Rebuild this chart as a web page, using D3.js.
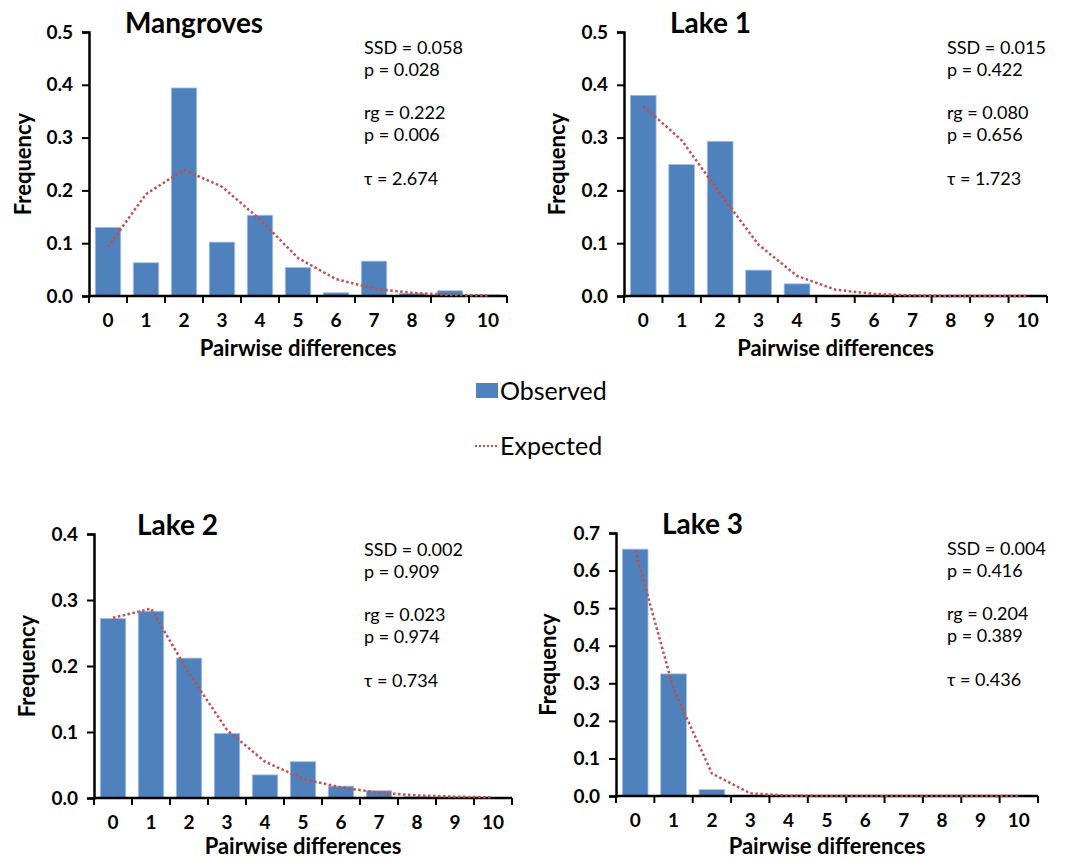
<!DOCTYPE html>
<html>
<head>
<meta charset="utf-8">
<script src="https://cdn.jsdelivr.net/npm/d3@7"></script>
<style>
  body { margin: 0; background: #fff; }
  svg text { font-family: Lato, "Noto Sans", sans-serif; fill: #000; }
  .tick text { font-weight: bold; font-size: 19px; }
</style>
</head>
<body>
<div id="chart"></div>
<script>
// categories (pairwise differences)
var diffs = [0, 1, 2, 3, 4, 5, 6, 7, 8, 9, 10];

// observed frequencies
var mangrovesObs = [0.130, 0.063, 0.394, 0.102, 0.153, 0.054, 0.006, 0.066, 0.005, 0.010, 0.002];
var lake1Obs = [0.380, 0.249, 0.293, 0.049, 0.023, 0, 0, 0, 0, 0, 0];
var lake2Obs = [0.272, 0.283, 0.212, 0.098, 0.035, 0.055, 0.018, 0.011, 0.002, 0.001, 0];
var lake3Obs = [0.657, 0.325, 0.017, 0, 0, 0, 0, 0, 0, 0, 0];

// expected frequencies
var mangrovesExp = [0.093, 0.193, 0.239, 0.207, 0.145, 0.072, 0.032, 0.014, 0.006, 0.002, 0.001];
var lake1Exp = [0.360, 0.295, 0.194, 0.097, 0.038, 0.012, 0.004, 0.001, 0, 0, 0];
var lake2Exp = [0.273, 0.287, 0.189, 0.103, 0.055, 0.029, 0.016, 0.008, 0.004, 0.002, 0.001];
var lake3Exp = [0.654, 0.285, 0.060, 0.007, 0.001, 0, 0, 0, 0, 0, 0];

// stats text
var mangrovesStats = ["SSD = 0.058", "p = 0.028", "rg = 0.222", "p = 0.006", "τ = 2.674"];
var lake1Stats = ["SSD = 0.015", "p = 0.422", "rg = 0.080", "p = 0.656", "τ = 1.723"];
var lake2Stats = ["SSD = 0.002", "p = 0.909", "rg = 0.023", "p = 0.974", "τ = 0.734"];
var lake3Stats = ["SSD = 0.004", "p = 0.416", "rg = 0.204", "p = 0.389", "τ = 0.436"];

var barColor = "#4F81BD";
var lineColor = "#C0504D";

var svg = d3.select("#chart").append("svg")
    .attr("width", 1065)
    .attr("height", 861);

//panel layout
var panels = [
    {title: "Mangroves", obs: mangrovesObs, exp: mangrovesExp, stats: mangrovesStats, yMax: 0.5,
     left: 89, right: 507, top: 32, bottom: 296, titleX: 125, statX: 364, yLabX: 23, xLabDy: 52},
    {title: "Lake 1", obs: lake1Obs, exp: lake1Exp, stats: lake1Stats, yMax: 0.5,
     left: 624, right: 1047, top: 32, bottom: 296, titleX: 670, statX: 947, yLabX: 557, xLabDy: 52},
    {title: "Lake 2", obs: lake2Obs, exp: lake2Exp, stats: lake2Stats, yMax: 0.4,
     left: 94, right: 512, top: 534, bottom: 798, titleX: 137, statX: 364, yLabX: 27, xLabDy: 48},
    {title: "Lake 3", obs: lake3Obs, exp: lake3Exp, stats: lake3Stats, yMax: 0.7,
     left: 616, right: 1038, top: 533, bottom: 796, titleX: 662, statX: 947, yLabX: 548, xLabDy: 50}
];

var statOffsets = [16, 38, 81, 103, 147];

panels.forEach(function(p) {
    var g = svg.append("g");

    var x = d3.scaleBand()
        .domain(diffs)
        .range([p.left, p.right])
        .paddingInner(0.33)
        .paddingOuter(0.165);
    var y = d3.scaleLinear()
        .domain([0, p.yMax])
        .range([p.bottom, p.top]);

    //bars
    g.selectAll("rect")
        .data(p.obs)
        .enter()
        .append("rect")
        .attr("x", (d, i) => x(diffs[i]))
        .attr("y", d => y(d))
        .attr("width", x.bandwidth())
        .attr("height", d => p.bottom - y(d))
        .attr("fill", barColor)
        .attr("stroke", "#a9c0e0")
        .attr("stroke-width", 0.8);

    //y axis
    var yAxis = d3.axisLeft(y)
        .tickValues(d3.range(0, p.yMax + 0.001, 0.1))
        .tickFormat(d3.format(".1f"))
        .tickSize(7)
        .tickPadding(9);
    var ya = g.append("g")
        .attr("transform", `translate(${p.left}, 0)`)
        .call(yAxis);
    ya.select(".domain").attr("stroke-width", 2.5);
    ya.selectAll(".tick line").attr("stroke-width", 2);

    //x axis labels
    var xAxis = d3.axisBottom(x).tickSize(0).tickPadding(18);
    var xa = g.append("g")
        .attr("transform", `translate(0, ${p.bottom})`)
        .call(xAxis);
    xa.select(".domain").remove();

    //x axis line and boundary ticks
    g.append("line")
        .attr("x1", p.left).attr("x2", p.right)
        .attr("y1", p.bottom).attr("y2", p.bottom)
        .attr("stroke", "#000").attr("stroke-width", 2.5);
    g.selectAll(".bt")
        .data(d3.range(diffs.length + 1))
        .enter()
        .append("line")
        .attr("x1", i => p.left + i * x.step())
        .attr("x2", i => p.left + i * x.step())
        .attr("y1", p.bottom).attr("y2", p.bottom + 7)
        .attr("stroke", "#000").attr("stroke-width", 2);

    //expected line
    var line = d3.line()
        .x((d, i) => x(diffs[i]) + x.bandwidth() / 2)
        .y(d => y(d));
    g.append("path")
        .datum(p.exp)
        .attr("d", line)
        .attr("fill", "none")
        .attr("stroke", lineColor)
        .attr("stroke-width", 2.5)
        .attr("stroke-dasharray", "2.5,2.5");

    //title
    g.append("text")
        .attr("x", p.titleX)
        .attr("y", p.top + 1)
        .attr("font-size", 28)
        .attr("font-weight", "bold")
        .text(p.title);

    //stats
    g.selectAll(".stat")
        .data(p.stats)
        .enter()
        .append("text")
        .attr("x", p.statX)
        .attr("y", (d, i) => p.top + statOffsets[i])
        .attr("dy", "0.35em")
        .attr("font-size", 18)
        .text(d => d);

    //axis labels
    g.append("text")
        .attr("transform", `translate(${p.yLabX}, ${(p.top + p.bottom) / 2}) rotate(-90)`)
        .attr("text-anchor", "middle")
        .attr("dy", "0.35em")
        .attr("font-size", 22)
        .attr("font-weight", "bold")
        .text("Frequency");
    g.append("text")
        .attr("x", (p.left + p.right) / 2)
        .attr("y", p.bottom + p.xLabDy)
        .attr("dy", "0.35em")
        .attr("text-anchor", "middle")
        .attr("font-size", 22)
        .attr("font-weight", "bold")
        .text("Pairwise differences");
});

//legend
var legend = svg.append("g");
legend.append("rect")
    .attr("x", 476).attr("y", 383)
    .attr("width", 22).attr("height", 15)
    .attr("fill", barColor);
legend.append("text")
    .attr("x", 500).attr("y", 391)
    .attr("dy", "0.35em")
    .attr("font-size", 25)
    .text("Observed");
legend.append("line")
    .attr("x1", 475).attr("x2", 497)
    .attr("y1", 446).attr("y2", 446)
    .attr("stroke", lineColor)
    .attr("stroke-width", 2)
    .attr("stroke-dasharray", "2,2");
legend.append("text")
    .attr("x", 500).attr("y", 446)
    .attr("dy", "0.35em")
    .attr("font-size", 25)
    .text("Expected");
</script>
</body>
</html>
